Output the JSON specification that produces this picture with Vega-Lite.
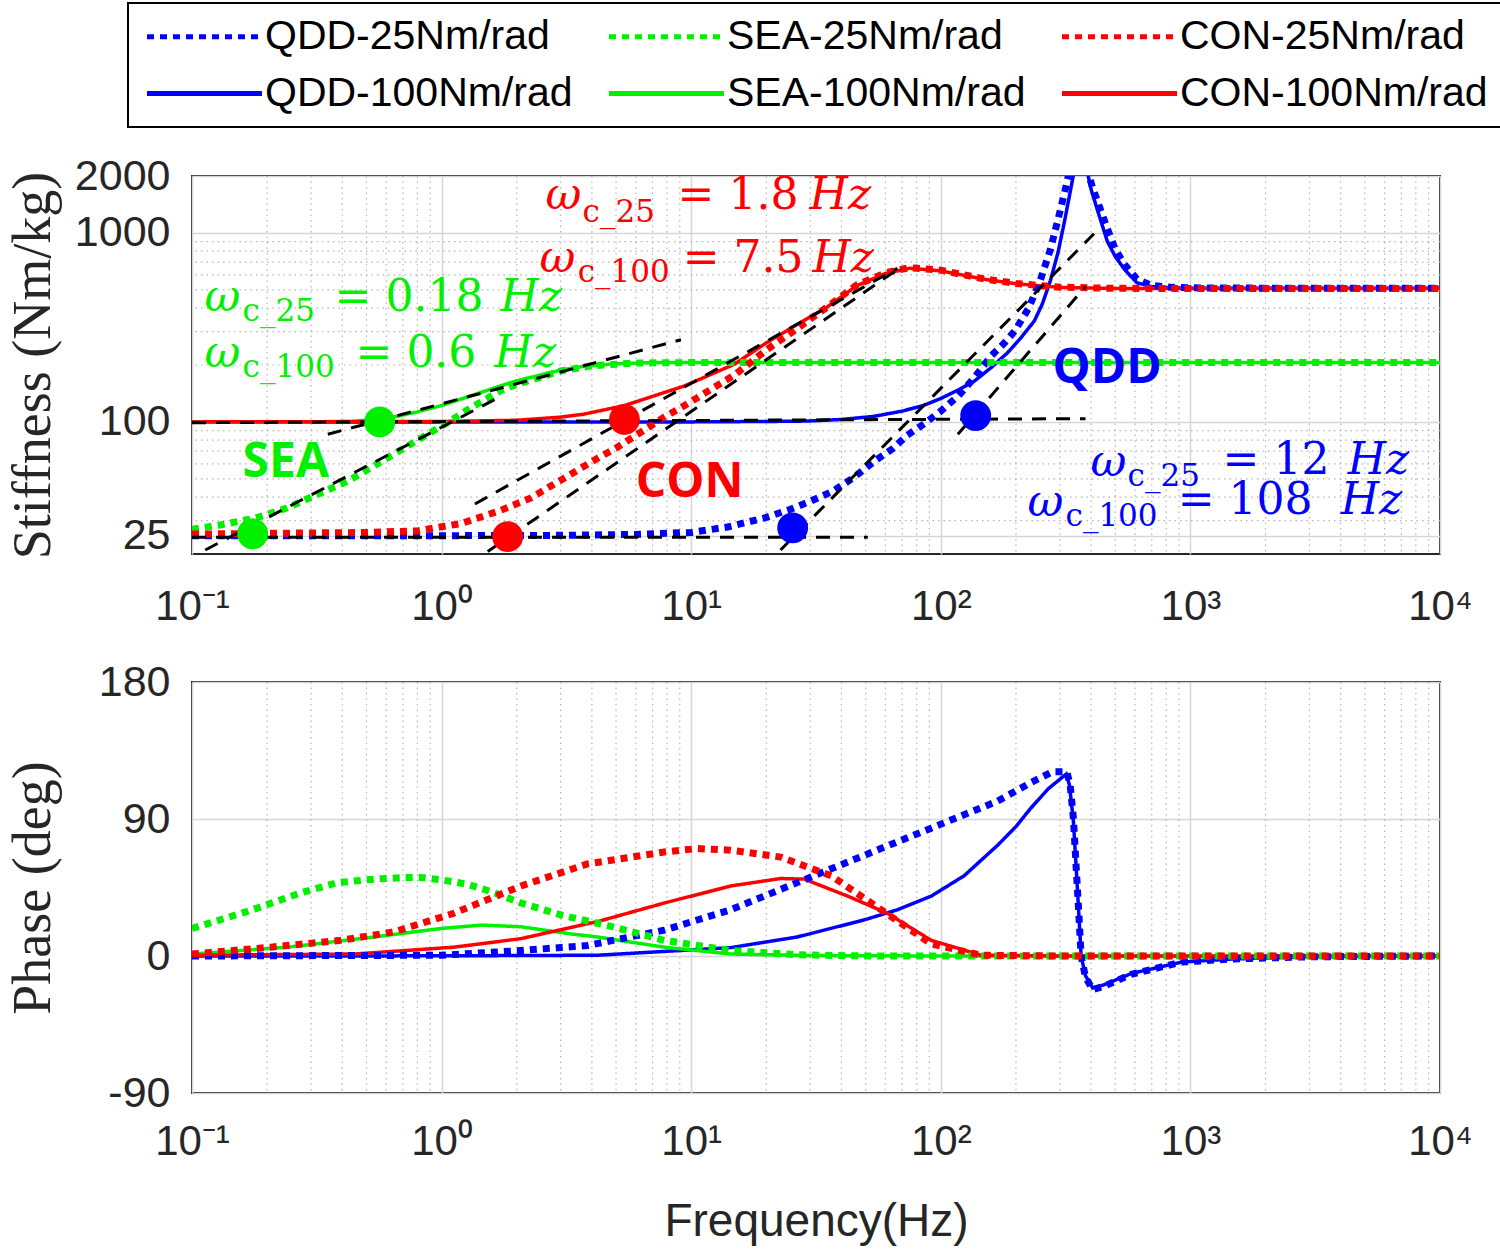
{
  "$schema": "https://vega.github.io/schema/vega-lite/v6.json",
  "background": "white",
  "padding": {"left": 5, "top": 2, "right": 5, "bottom": 5},
  "bounds": "flush",
  "spacing": 128,
  "datasets": {
    "mag": [
      {"s":"QDD-25Nm/rad","f":0.1,"v":25},{"s":"QDD-25Nm/rad","f":1,"v":25},{"s":"QDD-25Nm/rad","f":3,"v":25.1},{"s":"QDD-25Nm/rad","f":6,"v":25.4},{"s":"QDD-25Nm/rad","f":10,"v":26},{"s":"QDD-25Nm/rad","f":14,"v":27.8},{"s":"QDD-25Nm/rad","f":19.6,"v":31},{"s":"QDD-25Nm/rad","f":25,"v":34.5},{"s":"QDD-25Nm/rad","f":30,"v":38},{"s":"QDD-25Nm/rad","f":37,"v":43},{"s":"QDD-25Nm/rad","f":45,"v":51},{"s":"QDD-25Nm/rad","f":54,"v":61.7},{"s":"QDD-25Nm/rad","f":64,"v":72},{"s":"QDD-25Nm/rad","f":73.5,"v":85},{"s":"QDD-25Nm/rad","f":86,"v":98},{"s":"QDD-25Nm/rad","f":100,"v":114},{"s":"QDD-25Nm/rad","f":118,"v":138},{"s":"QDD-25Nm/rad","f":136,"v":171},{"s":"QDD-25Nm/rad","f":160,"v":225},{"s":"QDD-25Nm/rad","f":180,"v":262},{"s":"QDD-25Nm/rad","f":198,"v":303},{"s":"QDD-25Nm/rad","f":225,"v":400},{"s":"QDD-25Nm/rad","f":250,"v":557},{"s":"QDD-25Nm/rad","f":275,"v":820},{"s":"QDD-25Nm/rad","f":294,"v":1160},{"s":"QDD-25Nm/rad","f":312,"v":1600},{"s":"QDD-25Nm/rad","f":327,"v":2100},{"s":"QDD-25Nm/rad","f":345,"v":4500},{"s":"QDD-25Nm/rad","f":360,"v":4000},{"s":"QDD-25Nm/rad","f":375,"v":2800},{"s":"QDD-25Nm/rad","f":388,"v":2100},{"s":"QDD-25Nm/rad","f":405,"v":1750},{"s":"QDD-25Nm/rad","f":430,"v":1400},{"s":"QDD-25Nm/rad","f":465,"v":1050},{"s":"QDD-25Nm/rad","f":500,"v":820},{"s":"QDD-25Nm/rad","f":545,"v":680},{"s":"QDD-25Nm/rad","f":610,"v":570},{"s":"QDD-25Nm/rad","f":700,"v":527},{"s":"QDD-25Nm/rad","f":850,"v":515},{"s":"QDD-25Nm/rad","f":1000,"v":512},{"s":"QDD-25Nm/rad","f":2000,"v":510},{"s":"QDD-25Nm/rad","f":10000,"v":510},
      {"s":"QDD-100Nm/rad","f":0.1,"v":100},{"s":"QDD-100Nm/rad","f":10,"v":100},{"s":"QDD-100Nm/rad","f":20,"v":100.5},{"s":"QDD-100Nm/rad","f":29,"v":101},{"s":"QDD-100Nm/rad","f":40,"v":103},{"s":"QDD-100Nm/rad","f":54,"v":107},{"s":"QDD-100Nm/rad","f":70,"v":114},{"s":"QDD-100Nm/rad","f":85,"v":122},{"s":"QDD-100Nm/rad","f":100,"v":133},{"s":"QDD-100Nm/rad","f":118,"v":148},{"s":"QDD-100Nm/rad","f":136,"v":164},{"s":"QDD-100Nm/rad","f":160,"v":195},{"s":"QDD-100Nm/rad","f":185,"v":232},{"s":"QDD-100Nm/rad","f":210,"v":280},{"s":"QDD-100Nm/rad","f":237,"v":342},{"s":"QDD-100Nm/rad","f":255,"v":420},{"s":"QDD-100Nm/rad","f":275,"v":560},{"s":"QDD-100Nm/rad","f":295,"v":790},{"s":"QDD-100Nm/rad","f":313,"v":1150},{"s":"QDD-100Nm/rad","f":330,"v":1650},{"s":"QDD-100Nm/rad","f":346,"v":2300},{"s":"QDD-100Nm/rad","f":360,"v":4500},{"s":"QDD-100Nm/rad","f":372,"v":3000},{"s":"QDD-100Nm/rad","f":385,"v":2150},{"s":"QDD-100Nm/rad","f":400,"v":1700},{"s":"QDD-100Nm/rad","f":425,"v":1310},{"s":"QDD-100Nm/rad","f":465,"v":900},{"s":"QDD-100Nm/rad","f":500,"v":750},{"s":"QDD-100Nm/rad","f":545,"v":640},{"s":"QDD-100Nm/rad","f":610,"v":545},{"s":"QDD-100Nm/rad","f":700,"v":520},{"s":"QDD-100Nm/rad","f":850,"v":512},{"s":"QDD-100Nm/rad","f":1000,"v":510},{"s":"QDD-100Nm/rad","f":10000,"v":510},
      {"s":"SEA-25Nm/rad","f":0.1,"v":27},{"s":"SEA-25Nm/rad","f":0.13,"v":28.5},{"s":"SEA-25Nm/rad","f":0.18,"v":31},{"s":"SEA-25Nm/rad","f":0.24,"v":35},{"s":"SEA-25Nm/rad","f":0.3,"v":40},{"s":"SEA-25Nm/rad","f":0.42,"v":48.5},{"s":"SEA-25Nm/rad","f":0.65,"v":68},{"s":"SEA-25Nm/rad","f":0.8,"v":80},{"s":"SEA-25Nm/rad","f":1,"v":95},{"s":"SEA-25Nm/rad","f":1.3,"v":118},{"s":"SEA-25Nm/rad","f":1.72,"v":146},{"s":"SEA-25Nm/rad","f":2,"v":158},{"s":"SEA-25Nm/rad","f":3,"v":186},{"s":"SEA-25Nm/rad","f":4,"v":198},{"s":"SEA-25Nm/rad","f":6,"v":205},{"s":"SEA-25Nm/rad","f":10,"v":206},{"s":"SEA-25Nm/rad","f":10000,"v":206},
      {"s":"SEA-100Nm/rad","f":0.1,"v":100},{"s":"SEA-100Nm/rad","f":0.3,"v":100},{"s":"SEA-100Nm/rad","f":0.45,"v":101},{"s":"SEA-100Nm/rad","f":0.6,"v":104},{"s":"SEA-100Nm/rad","f":0.8,"v":113},{"s":"SEA-100Nm/rad","f":1,"v":122},{"s":"SEA-100Nm/rad","f":1.3,"v":137},{"s":"SEA-100Nm/rad","f":1.72,"v":155},{"s":"SEA-100Nm/rad","f":2,"v":165},{"s":"SEA-100Nm/rad","f":3,"v":188},{"s":"SEA-100Nm/rad","f":3.73,"v":197},{"s":"SEA-100Nm/rad","f":5,"v":203},{"s":"SEA-100Nm/rad","f":7,"v":206},{"s":"SEA-100Nm/rad","f":10000,"v":206},
      {"s":"CON-25Nm/rad","f":0.1,"v":25.5},{"s":"CON-25Nm/rad","f":0.5,"v":26},{"s":"CON-25Nm/rad","f":0.8,"v":26.5},{"s":"CON-25Nm/rad","f":1.2,"v":29},{"s":"CON-25Nm/rad","f":1.72,"v":34},{"s":"CON-25Nm/rad","f":2.27,"v":39.5},{"s":"CON-25Nm/rad","f":2.73,"v":45.6},{"s":"CON-25Nm/rad","f":4.2,"v":64},{"s":"CON-25Nm/rad","f":5.06,"v":73.4},{"s":"CON-25Nm/rad","f":7.8,"v":106},{"s":"CON-25Nm/rad","f":9.4,"v":122},{"s":"CON-25Nm/rad","f":14.9,"v":177},{"s":"CON-25Nm/rad","f":20,"v":240},{"s":"CON-25Nm/rad","f":26.6,"v":312},{"s":"CON-25Nm/rad","f":35,"v":405},{"s":"CON-25Nm/rad","f":46,"v":530},{"s":"CON-25Nm/rad","f":60,"v":615},{"s":"CON-25Nm/rad","f":75,"v":655},{"s":"CON-25Nm/rad","f":100,"v":635},{"s":"CON-25Nm/rad","f":150,"v":570},{"s":"CON-25Nm/rad","f":200,"v":540},{"s":"CON-25Nm/rad","f":300,"v":516},{"s":"CON-25Nm/rad","f":500,"v":509},{"s":"CON-25Nm/rad","f":1000,"v":508},{"s":"CON-25Nm/rad","f":10000,"v":508},
      {"s":"CON-100Nm/rad","f":0.1,"v":100},{"s":"CON-100Nm/rad","f":1,"v":100.5},{"s":"CON-100Nm/rad","f":2,"v":102},{"s":"CON-100Nm/rad","f":3,"v":106},{"s":"CON-100Nm/rad","f":3.73,"v":110},{"s":"CON-100Nm/rad","f":5.4,"v":122},{"s":"CON-100Nm/rad","f":7.8,"v":143},{"s":"CON-100Nm/rad","f":9.4,"v":155},{"s":"CON-100Nm/rad","f":14.9,"v":202},{"s":"CON-100Nm/rad","f":20,"v":262},{"s":"CON-100Nm/rad","f":26.6,"v":328},{"s":"CON-100Nm/rad","f":35,"v":405},{"s":"CON-100Nm/rad","f":46,"v":525},{"s":"CON-100Nm/rad","f":60,"v":610},{"s":"CON-100Nm/rad","f":75,"v":650},{"s":"CON-100Nm/rad","f":100,"v":630},{"s":"CON-100Nm/rad","f":150,"v":568},{"s":"CON-100Nm/rad","f":200,"v":538},{"s":"CON-100Nm/rad","f":300,"v":515},{"s":"CON-100Nm/rad","f":500,"v":508},{"s":"CON-100Nm/rad","f":1000,"v":508},{"s":"CON-100Nm/rad","f":10000,"v":508}
    ],
    "phase": [
      {"s":"QDD-25Nm/rad","f":0.1,"p":0},{"s":"QDD-25Nm/rad","f":1,"p":0.5},{"s":"QDD-25Nm/rad","f":2.08,"p":3.6},{"s":"QDD-25Nm/rad","f":3.84,"p":6.9},{"s":"QDD-25Nm/rad","f":7.8,"p":17},{"s":"QDD-25Nm/rad","f":14.4,"p":30.4},{"s":"QDD-25Nm/rad","f":26.6,"p":48.2},{"s":"QDD-25Nm/rad","f":49.3,"p":66.1},{"s":"QDD-25Nm/rad","f":91.5,"p":84},{"s":"QDD-25Nm/rad","f":169,"p":101.8},{"s":"QDD-25Nm/rad","f":230,"p":114},{"s":"QDD-25Nm/rad","f":280,"p":121},{"s":"QDD-25Nm/rad","f":320,"p":121},{"s":"QDD-25Nm/rad","f":330,"p":112},{"s":"QDD-25Nm/rad","f":340,"p":90},{"s":"QDD-25Nm/rad","f":349,"p":57},{"s":"QDD-25Nm/rad","f":358,"p":25},{"s":"QDD-25Nm/rad","f":365,"p":0},{"s":"QDD-25Nm/rad","f":380,"p":-14},{"s":"QDD-25Nm/rad","f":406,"p":-22},{"s":"QDD-25Nm/rad","f":450,"p":-20},{"s":"QDD-25Nm/rad","f":580,"p":-12},{"s":"QDD-25Nm/rad","f":923,"p":-4},{"s":"QDD-25Nm/rad","f":1460,"p":-2},{"s":"QDD-25Nm/rad","f":3000,"p":-0.5},{"s":"QDD-25Nm/rad","f":10000,"p":0},
      {"s":"QDD-100Nm/rad","f":0.1,"p":0},{"s":"QDD-100Nm/rad","f":1,"p":0.1},{"s":"QDD-100Nm/rad","f":4.21,"p":0.5},{"s":"QDD-100Nm/rad","f":14.4,"p":5.5},{"s":"QDD-100Nm/rad","f":26.6,"p":12.5},{"s":"QDD-100Nm/rad","f":49.3,"p":23.7},{"s":"QDD-100Nm/rad","f":67.1,"p":30.4},{"s":"QDD-100Nm/rad","f":91.5,"p":39.3},{"s":"QDD-100Nm/rad","f":124,"p":52.7},{"s":"QDD-100Nm/rad","f":169,"p":72.8},{"s":"QDD-100Nm/rad","f":200,"p":85},{"s":"QDD-100Nm/rad","f":229,"p":97},{"s":"QDD-100Nm/rad","f":270,"p":110},{"s":"QDD-100Nm/rad","f":318,"p":119.5},{"s":"QDD-100Nm/rad","f":328,"p":112},{"s":"QDD-100Nm/rad","f":340,"p":88},{"s":"QDD-100Nm/rad","f":349,"p":57},{"s":"QDD-100Nm/rad","f":358,"p":25},{"s":"QDD-100Nm/rad","f":365,"p":0},{"s":"QDD-100Nm/rad","f":380,"p":-13},{"s":"QDD-100Nm/rad","f":406,"p":-21},{"s":"QDD-100Nm/rad","f":450,"p":-19},{"s":"QDD-100Nm/rad","f":580,"p":-11.5},{"s":"QDD-100Nm/rad","f":923,"p":-4},{"s":"QDD-100Nm/rad","f":1460,"p":-2},{"s":"QDD-100Nm/rad","f":3000,"p":-0.5},{"s":"QDD-100Nm/rad","f":10000,"p":0},
      {"s":"SEA-25Nm/rad","f":0.1,"p":18.1},{"s":"SEA-25Nm/rad","f":0.167,"p":29.3},{"s":"SEA-25Nm/rad","f":0.273,"p":41.5},{"s":"SEA-25Nm/rad","f":0.383,"p":48.2},{"s":"SEA-25Nm/rad","f":0.537,"p":50.5},{"s":"SEA-25Nm/rad","f":0.7,"p":51.5},{"s":"SEA-25Nm/rad","f":0.826,"p":51.6},{"s":"SEA-25Nm/rad","f":1,"p":50},{"s":"SEA-25Nm/rad","f":1.27,"p":47.1},{"s":"SEA-25Nm/rad","f":1.6,"p":42},{"s":"SEA-25Nm/rad","f":2.08,"p":34.8},{"s":"SEA-25Nm/rad","f":3,"p":27},{"s":"SEA-25Nm/rad","f":3.84,"p":23},{"s":"SEA-25Nm/rad","f":4.63,"p":20},{"s":"SEA-25Nm/rad","f":7.8,"p":10.3},{"s":"SEA-25Nm/rad","f":14.4,"p":3.6},{"s":"SEA-25Nm/rad","f":26.6,"p":0.8},{"s":"SEA-25Nm/rad","f":50,"p":0},{"s":"SEA-25Nm/rad","f":10000,"p":0},
      {"s":"SEA-100Nm/rad","f":0.1,"p":1.3},{"s":"SEA-100Nm/rad","f":0.241,"p":5.8},{"s":"SEA-100Nm/rad","f":0.537,"p":12.5},{"s":"SEA-100Nm/rad","f":1,"p":18.1},{"s":"SEA-100Nm/rad","f":1.44,"p":20.3},{"s":"SEA-100Nm/rad","f":2.08,"p":19.2},{"s":"SEA-100Nm/rad","f":3.3,"p":14.5},{"s":"SEA-100Nm/rad","f":4.21,"p":12.5},{"s":"SEA-100Nm/rad","f":7.8,"p":5.8},{"s":"SEA-100Nm/rad","f":14.4,"p":1.3},{"s":"SEA-100Nm/rad","f":30,"p":0.3},{"s":"SEA-100Nm/rad","f":100,"p":0},{"s":"SEA-100Nm/rad","f":10000,"p":0},
      {"s":"CON-25Nm/rad","f":0.1,"p":1.3},{"s":"CON-25Nm/rad","f":0.207,"p":5.8},{"s":"CON-25Nm/rad","f":0.395,"p":10.3},{"s":"CON-25Nm/rad","f":0.646,"p":15.9},{"s":"CON-25Nm/rad","f":1.12,"p":28.1},{"s":"CON-25Nm/rad","f":2.08,"p":46},{"s":"CON-25Nm/rad","f":3.84,"p":60.5},{"s":"CON-25Nm/rad","f":7.8,"p":68.3},{"s":"CON-25Nm/rad","f":10.6,"p":70.6},{"s":"CON-25Nm/rad","f":14.4,"p":69.5},{"s":"CON-25Nm/rad","f":22.8,"p":65},{"s":"CON-25Nm/rad","f":36.4,"p":52.7},{"s":"CON-25Nm/rad","f":57.6,"p":30.4},{"s":"CON-25Nm/rad","f":91.5,"p":8},{"s":"CON-25Nm/rad","f":145,"p":0.5},{"s":"CON-25Nm/rad","f":300,"p":0},{"s":"CON-25Nm/rad","f":10000,"p":0},
      {"s":"CON-100Nm/rad","f":0.1,"p":0.5},{"s":"CON-100Nm/rad","f":0.447,"p":1.3},{"s":"CON-100Nm/rad","f":1.12,"p":5.8},{"s":"CON-100Nm/rad","f":2.08,"p":11.4},{"s":"CON-100Nm/rad","f":4.3,"p":23},{"s":"CON-100Nm/rad","f":7.8,"p":34.8},{"s":"CON-100Nm/rad","f":14.4,"p":46},{"s":"CON-100Nm/rad","f":22.8,"p":50.9},{"s":"CON-100Nm/rad","f":28.4,"p":50.5},{"s":"CON-100Nm/rad","f":42.4,"p":39.3},{"s":"CON-100Nm/rad","f":61,"p":28.1},{"s":"CON-100Nm/rad","f":91.5,"p":10.3},{"s":"CON-100Nm/rad","f":145,"p":0.5},{"s":"CON-100Nm/rad","f":300,"p":0},{"s":"CON-100Nm/rad","f":10000,"p":0}
    ],
    "asym": [
      {"id":"a1","f":0.1,"v":99},{"id":"a1","f":380,"v":104},
      {"id":"a2","f":0.1,"v":24.5},{"id":"a2","f":51,"v":24.5},
      {"id":"a3","f":0.113,"v":21},{"id":"a3","f":1.72,"v":136},
      {"id":"a4","f":0.35,"v":86},{"id":"a4","f":9.1,"v":272},
      {"id":"a5","f":1.36,"v":36.8},{"id":"a5","f":67,"v":650},
      {"id":"a6","f":1.53,"v":20.6},{"id":"a6","f":67,"v":640},
      {"id":"a7","f":22.8,"v":21},{"id":"a7","f":411,"v":990},
      {"id":"a8","f":117,"v":86},{"id":"a8","f":380,"v":520}
    ],
    "dots": [
      {"sys":"SEA","f":0.175,"v":25.6},{"sys":"SEA","f":0.565,"v":100},
      {"sys":"CON","f":1.84,"v":24.7},{"sys":"CON","f":5.4,"v":103},
      {"sys":"QDD","f":25.5,"v":27.5},{"sys":"QDD","f":138,"v":108}
    ],
    "texts": [
      {"sys":"CON","kind":"omega","f":2.61,"v":1567,"t":"ω"},{"sys":"CON","kind":"sub","f":3.67,"v":1274,"t":"c_25"},{"sys":"CON","kind":"eq","f":8.82,"v":1567,"t":"= 1.8"},{"sys":"CON","kind":"hz","f":29.8,"v":1567,"t":"Hz"},
      {"sys":"CON","kind":"omega","f":2.47,"v":728,"t":"ω"},{"sys":"CON","kind":"sub","f":3.51,"v":614,"t":"c_100"},{"sys":"CON","kind":"eq","f":9.24,"v":728,"t":"= 7.5"},{"sys":"CON","kind":"hz","f":30.6,"v":728,"t":"Hz"},
      {"sys":"SEA","kind":"omega","f":0.1123,"v":452,"t":"ω"},{"sys":"SEA","kind":"sub","f":0.1595,"v":381,"t":"c_25"},{"sys":"SEA","kind":"eq","f":0.3726,"v":452,"t":"= 0.18"},{"sys":"SEA","kind":"hz","f":1.723,"v":452,"t":"Hz"},
      {"sys":"SEA","kind":"omega","f":0.1123,"v":229,"t":"ω"},{"sys":"SEA","kind":"sub","f":0.1595,"v":193,"t":"c_100"},{"sys":"SEA","kind":"eq","f":0.452,"v":229,"t":"= 0.6"},{"sys":"SEA","kind":"hz","f":1.63,"v":229,"t":"Hz"},
      {"sys":"QDD","kind":"omega","f":398.3,"v":60.6,"t":"ω"},{"sys":"QDD","kind":"sub","f":560,"v":51.1,"t":"c_25"},{"sys":"QDD","kind":"eq","f":1346,"v":62.1,"t":"= 12"},{"sys":"QDD","kind":"hz","f":4266,"v":62.1,"t":"Hz"},
      {"sys":"QDD","kind":"omega","f":222.7,"v":37.2,"t":"ω"},{"sys":"QDD","kind":"sub","f":316,"v":31.4,"t":"c_100"},{"sys":"QDD","kind":"eq","f":889,"v":38.1,"t":"= 108"},{"sys":"QDD","kind":"hz","f":4000,"v":38.1,"t":"Hz"},
      {"sys":"SEA","kind":"label","f":0.1595,"v":60.6,"t":"SEA"},{"sys":"CON","kind":"label","f":5.99,"v":47.5,"t":"CON"},{"sys":"QDD","kind":"label","f":280.5,"v":190.6,"t":"QDD"}
    ],
    "gx": [
      {"f":0.2},{"f":0.3},{"f":0.4},{"f":0.5},{"f":0.6},{"f":0.7},{"f":0.8},{"f":0.9},
      {"f":2},{"f":3},{"f":4},{"f":5},{"f":6},{"f":7},{"f":8},{"f":9},
      {"f":20},{"f":30},{"f":40},{"f":50},{"f":60},{"f":70},{"f":80},{"f":90},
      {"f":200},{"f":300},{"f":400},{"f":500},{"f":600},{"f":700},{"f":800},{"f":900},
      {"f":2000},{"f":3000},{"f":4000},{"f":5000},{"f":6000},{"f":7000},{"f":8000},{"f":9000}
    ],
    "gy": [
      {"v":30},{"v":40},{"v":50},{"v":60},{"v":70},{"v":80},{"v":90},
      {"v":200},{"v":300},{"v":400},{"v":500},{"v":600},{"v":700},{"v":800},{"v":900}
    ]
  },
  "resolve": {
    "scale": {"color": "shared", "strokeDash": "shared", "fill": "shared"},
    "legend": {"color": "shared", "strokeDash": "shared"}
  },
  "vconcat": [
    {
      "width": 1248,
      "height": 378,
      "layer": [
        {
          "data": {"name": "gx"},
          "mark": {"type": "rule", "stroke": "#b5b5b5", "strokeDash": [1.5, 4], "strokeWidth": 1.2},
          "encoding": {
            "x": {"field": "f", "type": "quantitative", "scale": {"type": "log", "domain": [0.1, 10000]},
              "axis": {"values": [0.1, 1, 10, 100, 1000, 10000], "labelExpr": "datum.value < 0.5 ? '10⁻¹' : datum.value < 5 ? '10⁰' : datum.value < 50 ? '10¹' : datum.value < 500 ? '10²' : datum.value < 5000 ? '10³' : '10⁴'", "labelFontSize": 42, "labelPadding": 32, "grid": true, "title": null, "labelFlush": false, "labelOverlap": false, "labelBound": false}}
          }
        },
        {
          "data": {"name": "gy"},
          "mark": {"type": "rule", "stroke": "#b5b5b5", "strokeDash": [1.5, 4], "strokeWidth": 1.2},
          "encoding": {
            "y": {"field": "v", "type": "quantitative", "scale": {"type": "log", "domain": [20, 2000]},
              "axis": {"values": [25, 100, 1000, 2000], "labelExpr": "'' + datum.value", "labelFontSize": 43, "labelPadding": 22, "grid": true, "title": "Stiffness (Nm/kg)", "titleFont": "Liberation Serif", "titleFontSize": 54, "titlePadding": 14, "labelOverlap": false, "labelBound": false, "labelFlush": false}}
          }
        },
        {
          "data": {"name": "mag"},
          "transform": [{"filter": {"field": "s", "oneOf": ["QDD-100Nm/rad", "SEA-100Nm/rad", "CON-100Nm/rad"]}}],
          "mark": {"type": "line", "clip": true, "strokeWidth": 3.5},
          "encoding": {
            "x": {"field": "f", "type": "quantitative", "scale": {"type": "log", "domain": [0.1, 10000]}},
            "y": {"field": "v", "type": "quantitative", "scale": {"type": "log", "domain": [20, 2000]}},
            "color": {"field": "s", "type": "nominal", "scale": {"domain": ["QDD-25Nm/rad", "QDD-100Nm/rad", "SEA-25Nm/rad", "SEA-100Nm/rad", "CON-25Nm/rad", "CON-100Nm/rad"], "range": ["#0000ff", "#0000ff", "#00f000", "#00f000", "#ff0000", "#ff0000"]}, "legend": {"title": null}},
            "strokeDash": {"field": "s", "type": "nominal", "scale": {"domain": ["QDD-25Nm/rad", "QDD-100Nm/rad", "SEA-25Nm/rad", "SEA-100Nm/rad", "CON-25Nm/rad", "CON-100Nm/rad"], "range": [[7, 6], [1, 0], [7, 6], [1, 0], [7, 6], [1, 0]]}, "legend": {"title": null}}
          }
        },
        {
          "data": {"name": "mag"},
          "transform": [{"filter": {"field": "s", "oneOf": ["QDD-25Nm/rad", "SEA-25Nm/rad", "CON-25Nm/rad"]}}],
          "mark": {"type": "line", "clip": true, "strokeWidth": 7},
          "encoding": {
            "x": {"field": "f", "type": "quantitative", "scale": {"type": "log", "domain": [0.1, 10000]}},
            "y": {"field": "v", "type": "quantitative", "scale": {"type": "log", "domain": [20, 2000]}},
            "color": {"field": "s", "type": "nominal", "legend": {"title": null}},
            "strokeDash": {"field": "s", "type": "nominal", "legend": {"title": null}}
          }
        },
        {
          "data": {"name": "asym"},
          "mark": {"type": "line", "color": "black", "strokeDash": [14, 10], "strokeWidth": 3, "clip": true},
          "encoding": {
            "x": {"field": "f", "type": "quantitative", "scale": {"type": "log", "domain": [0.1, 10000]}},
            "y": {"field": "v", "type": "quantitative", "scale": {"type": "log", "domain": [20, 2000]}},
            "detail": {"field": "id", "type": "nominal"}
          }
        },
        {
          "data": {"name": "dots"},
          "mark": {"type": "circle", "size": 950, "opacity": 1},
          "encoding": {
            "x": {"field": "f", "type": "quantitative", "scale": {"type": "log", "domain": [0.1, 10000]}},
            "y": {"field": "v", "type": "quantitative", "scale": {"type": "log", "domain": [20, 2000]}},
            "fill": {"field": "sys", "type": "nominal", "scale": {"domain": ["QDD", "SEA", "CON"], "range": ["#0000ff", "#00f000", "#ff0000"]}, "legend": null}
          }
        },
        {
          "data": {"name": "texts"},
          "transform": [{"filter": "datum.kind == 'omega'"}],
          "mark": {"type": "text", "align": "left", "baseline": "middle", "font": "DejaVu Serif", "fontSize": 44, "fontStyle": "italic"},
          "encoding": {
            "x": {"field": "f", "type": "quantitative", "scale": {"type": "log", "domain": [0.1, 10000]}},
            "y": {"field": "v", "type": "quantitative", "scale": {"type": "log", "domain": [20, 2000]}},
            "text": {"field": "t"},
            "fill": {"field": "sys", "type": "nominal", "legend": null}
          }
        },
        {
          "data": {"name": "texts"},
          "transform": [{"filter": "datum.kind == 'sub'"}],
          "mark": {"type": "text", "align": "left", "baseline": "middle", "font": "DejaVu Serif", "fontSize": 31},
          "encoding": {
            "x": {"field": "f", "type": "quantitative", "scale": {"type": "log", "domain": [0.1, 10000]}},
            "y": {"field": "v", "type": "quantitative", "scale": {"type": "log", "domain": [20, 2000]}},
            "text": {"field": "t"},
            "fill": {"field": "sys", "type": "nominal", "legend": null}
          }
        },
        {
          "data": {"name": "texts"},
          "transform": [{"filter": "datum.kind == 'eq'"}],
          "mark": {"type": "text", "align": "left", "baseline": "middle", "font": "DejaVu Serif", "fontSize": 44},
          "encoding": {
            "x": {"field": "f", "type": "quantitative", "scale": {"type": "log", "domain": [0.1, 10000]}},
            "y": {"field": "v", "type": "quantitative", "scale": {"type": "log", "domain": [20, 2000]}},
            "text": {"field": "t"},
            "fill": {"field": "sys", "type": "nominal", "legend": null}
          }
        },
        {
          "data": {"name": "texts"},
          "transform": [{"filter": "datum.kind == 'hz'"}],
          "mark": {"type": "text", "align": "left", "baseline": "middle", "font": "DejaVu Serif", "fontSize": 44, "fontStyle": "italic"},
          "encoding": {
            "x": {"field": "f", "type": "quantitative", "scale": {"type": "log", "domain": [0.1, 10000]}},
            "y": {"field": "v", "type": "quantitative", "scale": {"type": "log", "domain": [20, 2000]}},
            "text": {"field": "t"},
            "fill": {"field": "sys", "type": "nominal", "legend": null}
          }
        },
        {
          "data": {"name": "texts"},
          "transform": [{"filter": "datum.kind == 'label'"}],
          "mark": {"type": "text", "align": "left", "baseline": "middle", "font": "Open Sans", "fontSize": 48, "fontWeight": "bold"},
          "encoding": {
            "x": {"field": "f", "type": "quantitative", "scale": {"type": "log", "domain": [0.1, 10000]}},
            "y": {"field": "v", "type": "quantitative", "scale": {"type": "log", "domain": [20, 2000]}},
            "text": {"field": "t"},
            "fill": {"field": "sys", "type": "nominal", "legend": null}
          }
        }
      ]
    },
    {
      "width": 1248,
      "height": 411,
      "layer": [
        {
          "data": {"name": "gx"},
          "mark": {"type": "rule", "stroke": "#b5b5b5", "strokeDash": [1.5, 4], "strokeWidth": 1.2},
          "encoding": {
            "x": {"field": "f", "type": "quantitative", "scale": {"type": "log", "domain": [0.1, 10000]},
              "axis": {"values": [0.1, 1, 10, 100, 1000, 10000], "labelExpr": "datum.value < 0.5 ? '10⁻¹' : datum.value < 5 ? '10⁰' : datum.value < 50 ? '10¹' : datum.value < 500 ? '10²' : datum.value < 5000 ? '10³' : '10⁴'", "labelFontSize": 42, "labelPadding": 28, "grid": true, "title": "Frequency(Hz)", "titleFont": "Liberation Sans", "titleFontSize": 46, "titlePadding": 37, "labelFlush": false, "labelOverlap": false, "labelBound": false}}
          }
        },
        {
          "data": {"name": "phase"},
          "transform": [{"filter": {"field": "s", "oneOf": ["QDD-100Nm/rad", "SEA-100Nm/rad", "CON-100Nm/rad"]}}],
          "mark": {"type": "line", "clip": true, "strokeWidth": 3.5},
          "encoding": {
            "x": {"field": "f", "type": "quantitative", "scale": {"type": "log", "domain": [0.1, 10000]}},
            "y": {"field": "p", "type": "quantitative", "scale": {"domain": [-90, 180]},
              "axis": {"values": [-90, 0, 90, 180], "labelExpr": "'' + datum.value", "labelFontSize": 43, "labelPadding": 22, "grid": true, "title": "Phase (deg)", "titleFont": "Liberation Serif", "titleFontSize": 54, "titlePadding": 38, "labelOverlap": false, "labelBound": false, "labelFlush": false}},
            "color": {"field": "s", "type": "nominal", "legend": {"title": null}},
            "strokeDash": {"field": "s", "type": "nominal", "legend": {"title": null}}
          }
        },
        {
          "data": {"name": "phase"},
          "transform": [{"filter": {"field": "s", "oneOf": ["QDD-25Nm/rad", "SEA-25Nm/rad", "CON-25Nm/rad"]}}],
          "mark": {"type": "line", "clip": true, "strokeWidth": 7},
          "encoding": {
            "x": {"field": "f", "type": "quantitative", "scale": {"type": "log", "domain": [0.1, 10000]}},
            "y": {"field": "p", "type": "quantitative", "scale": {"domain": [-90, 180]}},
            "color": {"field": "s", "type": "nominal", "legend": {"title": null}},
            "strokeDash": {"field": "s", "type": "nominal", "legend": {"title": null}}
          }
        }
      ]
    }
  ],
  "config": {
    "view": {"stroke": "#262626", "strokeWidth": 2},
    "axis": {"labelColor": "#262626", "titleColor": "#262626", "ticks": false, "domain": false, "gridColor": "#d6d6d6", "gridWidth": 1.5, "labelFont": "Liberation Sans", "titleFontWeight": "normal"},
    "legend": {"orient": "none", "legendX": -64, "legendY": -173, "columns": 3, "symbolType": "M-4,0H4", "symbolSize": 827, "symbolOffset": 43, "symbolStrokeWidth": 5, "labelOffset": 40, "labelFontSize": 41, "labelFont": "Liberation Sans", "labelColor": "#000000", "labelLimit": 600, "strokeColor": "#000000", "strokeWidth": 2, "fillColor": "white", "padding": 13, "columnPadding": 25, "rowPadding": 15}
  }
}
